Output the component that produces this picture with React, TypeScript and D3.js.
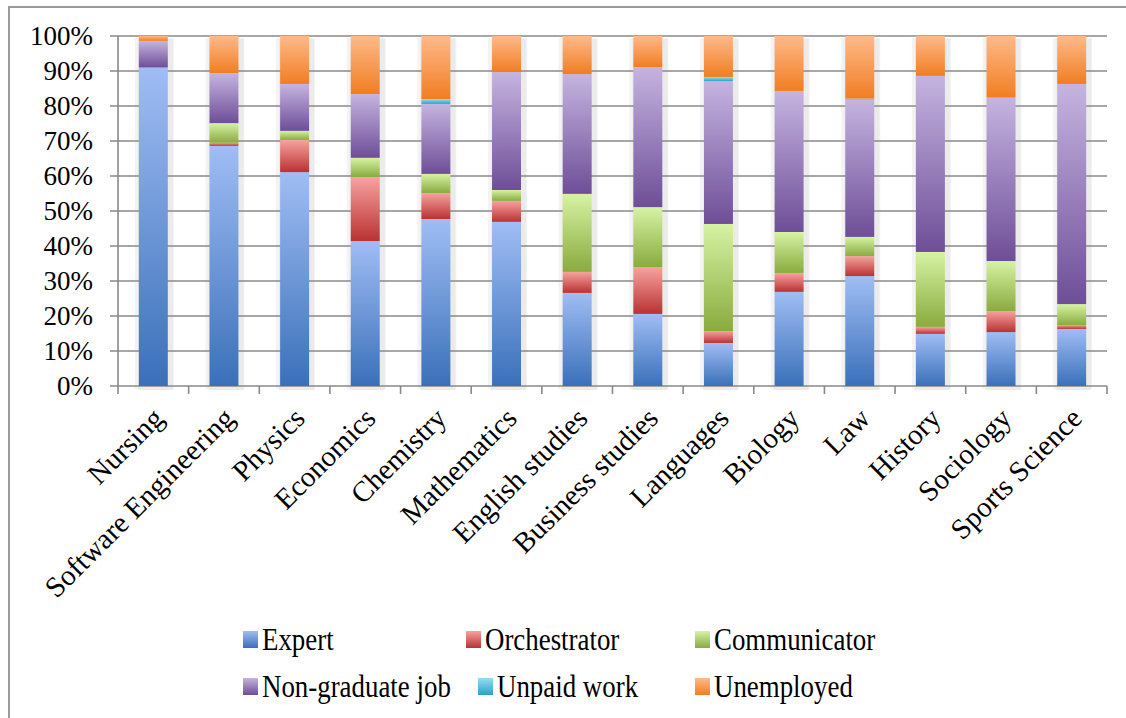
import React from "react";
import * as d3 from "d3";

const categories = [
  "Nursing", "Software Engineering", "Physics", "Economics", "Chemistry",
  "Mathematics", "English studies", "Business studies", "Languages",
  "Biology", "Law", "History", "Sociology", "Sports Science",
];
const seriesNames = ["Expert", "Orchestrator", "Communicator", "Non-graduate job", "Unpaid work", "Unemployed"];

const expert = [91.0, 68.6, 61.1, 41.4, 47.7, 46.9, 26.6, 20.6, 12.3, 26.9, 31.4, 14.9, 15.4, 16.3];
const orchestrator = [0.0, 0.9, 9.2, 18.3, 7.4, 6.0, 6.0, 13.4, 3.4, 5.4, 5.7, 2.0, 6.0, 1.1];
const communicator = [0.0, 5.6, 2.6, 5.5, 5.5, 3.1, 22.3, 17.1, 30.6, 11.7, 5.5, 21.4, 14.3, 6.0];
const nonGraduate = [7.6, 14.3, 13.4, 18.2, 20.0, 33.7, 34.2, 40.0, 40.8, 40.3, 39.3, 50.3, 46.7, 62.9];
const unpaid = [0.0, 0.0, 0.0, 0.0, 1.4, 0.0, 0.0, 0.0, 1.2, 0.0, 0.2, 0.0, 0.0, 0.0];
const unemployed = [1.4, 10.6, 13.7, 16.6, 18.0, 10.3, 10.9, 8.9, 11.7, 15.7, 17.9, 11.4, 17.6, 13.7];
const yTicks = [0, 10, 20, 30, 40, 50, 60, 70, 80, 90, 100];

const gradTop = ["#a0bdf4", "#f6a3a0", "#d6f3a4", "#c5b4e0", "#93dff3", "#feb98a"];
const gradBottom = ["#3a70b9", "#b93232", "#89ab3e", "#6e4e97", "#2aa2c6", "#f07e22"];

const W = 1126, H = 718;
const left = 118, right = 1107, top = 36, bottom = 386;
const serif = "'Liberation Serif', 'DejaVu Serif', serif";

export default function App() {
  const seriesValues = [expert, orchestrator, communicator, nonGraduate, unpaid, unemployed];
  const rows = categories.map((c, i) => {
    const r: any = { cat: c };
    seriesNames.forEach((s, k) => (r[s] = seriesValues[k][i]));
    return r;
  });
  const stacked = d3.stack<any>().keys(seriesNames)(rows);
  const x = d3.scaleBand<string>().domain(categories).range([left, right]).paddingInner(0.59).paddingOuter(0.295);
  const y = d3.scaleLinear().domain([0, 100]).range([bottom, top]);
  const step = x.step();
  const bw = x.bandwidth();

  const legendPos = [
    [243, 640], [466, 640], [695, 640],
    [243, 687], [478, 687], [695, 687],
  ];

  return (
    <svg width={W} height={H} style={{ position: "absolute", left: 0, top: 0, background: "#fff" }}>
      <defs>
        {seriesNames.map((s, k) => (
          <linearGradient key={s} id={`g${k}`} x1="0" y1="0" x2="0" y2="1">
            <stop offset="0%" stopColor={gradTop[k]} />
            <stop offset="100%" stopColor={gradBottom[k]} />
          </linearGradient>
        ))}
      </defs>
      <rect x={0} y={0} width={W} height={H} fill="#fff" />
      <path d={`M9,${H} V7 H${W}`} fill="none" stroke="#9a9a9a" strokeWidth={2} />

      {/* bar shadows */}
      {categories.map((c) => {
        const total = stacked[stacked.length - 1][categories.indexOf(c)][1];
        return (
          <g key={"sh" + c}>
            <rect x={(x(c) as number) - 4} y={y(total) + 2} width={bw + 10} height={bottom - y(total) + 1} fill="#f3f3f3" />
            <rect x={(x(c) as number) - 1} y={y(total) + 3} width={bw + 6} height={bottom - y(total) + 1} fill="#ebebeb" />
          </g>
        );
      })}

      {/* gridlines */}
      {yTicks.map((t) => (
        <line key={"gl" + t} x1={left - 8} x2={right} y1={y(t)} y2={y(t)} stroke="#8a8a8a" strokeWidth={1.6} />
      ))}
      <line x1={left} x2={left} y1={top} y2={bottom} stroke="#8a8a8a" strokeWidth={1.6} />
      {d3.range(categories.length + 1).map((i) => (
        <line key={"xt" + i} x1={left + i * step} x2={left + i * step} y1={bottom} y2={bottom + 8} stroke="#8a8a8a" strokeWidth={1.6} />
      ))}

      {/* bars */}
      {stacked.map((layer, k) => (
        <g key={layer.key} fill={`url(#g${k})`}>
          {layer.map((d, i) =>
            d[1] - d[0] > 0 ? (
              <rect key={i} x={x(categories[i])} y={y(d[1])} width={bw} height={y(d[0]) - y(d[1])} />
            ) : null
          )}
        </g>
      ))}

      {/* y labels */}
      {yTicks.map((t) => (
        <text key={"yl" + t} x={93} y={y(t) + 9} textAnchor="end" fontFamily={serif} fontSize={27} fill="#000">
          {t + "%"}
        </text>
      ))}

      {/* x labels */}
      {categories.map((c) => (
        <text
          key={"xl" + c}
          transform={`translate(${(x(c) as number) + bw / 2 + 12},${bottom + 34}) rotate(-45)`}
          textAnchor="end"
          fontFamily={serif}
          fontSize={29}
          fill="#000"
        >
          {c}
        </text>
      ))}

      {/* legend */}
      {seriesNames.map((s, k) => (
        <g key={"lg" + s} transform={`translate(${legendPos[k][0]},${legendPos[k][1]})`}>
          <rect x={0} y={-9} width={15} height={17} fill={`url(#g${k})`} />
          <text transform="translate(19,10) scale(0.84,1)" fontFamily={serif} fontSize={32} fill="#000">{s}</text>
        </g>
      ))}
    </svg>
  );
}
